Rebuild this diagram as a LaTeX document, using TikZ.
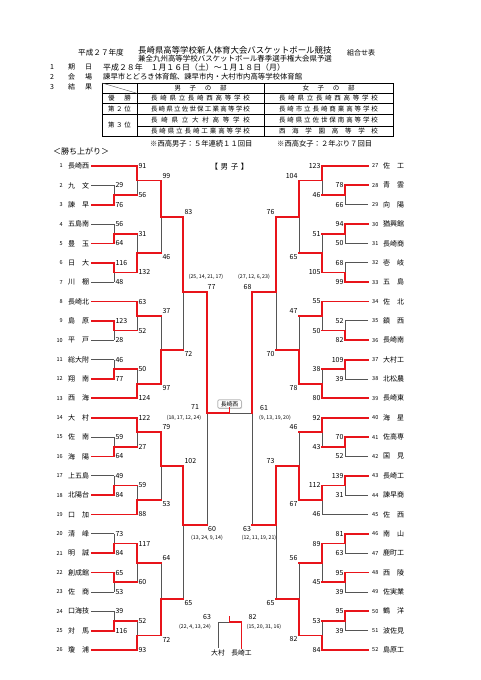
\documentclass[tikz,border=0pt]{standalone}
\usepackage{fontspec}
\setmainfont{Noto Sans CJK JP}
\usetikzlibrary{shadows}
\definecolor{bracketred}{RGB}{232,20,26}
\definecolor{bracketgray}{RGB}{85,85,85}
\pgfdeclarelayer{paper}
\pgfdeclarelayer{under}
\pgfsetlayers{paper,under,main}
\newcommand{\jfs}[1]{\fontsize{#1}{#1}\selectfont}
% spread the characters of a text over a given width
\def\spreadtext#1{\spreadfirst#1\relax}
\def\spreadfirst#1{\ifx\relax#1\else#1\expandafter\spreadrest\fi}
\def\spreadrest#1{\ifx\relax#1\else\hfil#1\expandafter\spreadrest\fi}
\newcommand{\spreadbox}[2]{\makebox[#1][s]{\spreadtext{#2}}}
% one game: x, next x, top y, bottom y, join y, winner (t/b), top score, bottom score, label side
\newcommand{\bout}[9]{%
  \if#6t
    \begin{pgfonlayer}{under}\draw[lose] (#1,#5) -- (#1,#4);\end{pgfonlayer}
    \draw[win] (#1,#3) -- (#1,#5);
  \else
    \begin{pgfonlayer}{under}\draw[lose] (#1,#3) -- (#1,#5);\end{pgfonlayer}
    \draw[win] (#1,#5) -- (#1,#4);
  \fi
  \draw[win] (#1,#5) -- (#2,#5);
  \node[#9 top] at (#1,#3) {#7};
  \node[#9 bot] at (#1,#4) {#8};}

\begin{document}
\begin{tikzpicture}[
  x=1pt,y=-1pt,
  win/.style={draw=bracketred,line width=1.8pt,line cap=rect},
  lose/.style={draw=bracketgray,line width=0.8pt},
  tbl/.style={draw=black,line width=0.7pt},
  head/.style={inner sep=0pt,anchor=west,font=\jfs{7}},
  cell/.style={inner sep=0pt,font=\jfs{6.5}},
  teamno/.style={inner sep=0pt,font=\jfs{5.5}},
  teamname/.style={inner sep=0pt,anchor=west,font=\jfs{7}},
  score/.style={inner sep=0pt,font=\jfs{7}},
  quarter/.style={inner sep=0pt,font=\jfs{5.2}},
  L top/.style={score,anchor=west,xshift=1.3pt},
  L bot/.style={score,anchor=west,xshift=1.3pt},
  LO top/.style={score,anchor=west,xshift=1.3pt,yshift=5pt},
  LO bot/.style={score,anchor=west,xshift=1.3pt,yshift=-4pt},
  R top/.style={score,anchor=east,xshift=-1.3pt},
  R bot/.style={score,anchor=east,xshift=-1.3pt},
  RO top/.style={score,anchor=east,xshift=-1.3pt,yshift=5pt},
  RO bot/.style={score,anchor=east,xshift=-1.3pt,yshift=-4pt},
  champ/.style={draw=bracketgray!80,fill=white,rounded corners=1pt,inner xsep=3pt,inner ysep=1.5pt,font=\jfs{5.8},
    drop shadow={shadow xshift=0.8pt,shadow yshift=-0.8pt,fill=black!30}},
  thirdname/.style={inner sep=2pt,font=\jfs{6.8}}
]
\begin{pgfonlayer}{paper}\fill[white] (0,0) rectangle (481,680);\end{pgfonlayer}
\useasboundingbox (0,0) rectangle (481,680);

% HEADER
\node[head,font=\jfs{7.6}] (nendo) at (78,53) {平成２７年度};
\node[head,font=\jfs{8.4}] (title) at (138,50.3) {長崎県高等学校新人体育大会バスケットボール競技};
\node[head,font=\jfs{7.45}] (subtitle) at (138,58.7) {兼全九州高等学校バスケットボール春季選手権大会県予選};
\node[head] (kumiawase) at (347,53) {組合せ表};

\node[head] (no1) at (50,67.3) {1};
\node[head] (lab1) at (68,67.3) {\spreadbox{24pt}{期日}};
\node[head,font=\jfs{7.9}] (date) at (103,67.3) {平成２８年　１月１６日（土）～１月１８日（月）};
\node[head] (no2) at (50,76.7) {2};
\node[head] (lab2) at (68,76.7) {\spreadbox{24pt}{会場}};
\node[head,font=\jfs{7.37}] (venue) at (103,76.7) {諫早市とどろき体育館、諫早市内・大村市内高等学校体育館};
\node[head] (no3) at (50,87.3) {3};
\node[head] (lab3) at (68,87.3) {\spreadbox{24pt}{結果}};

% RESULT TABLE
\draw[tbl,line width=0.9pt] (102,83) rectangle (393,136.8);
\draw[tbl] (102,93.3) -- (393,93.3);
\draw[tbl] (102,103.7) -- (393,103.7);
\draw[tbl] (102,114.7) -- (393,114.7);
\draw[tbl] (137,126) -- (393,126);
\draw[tbl] (137,83) -- (137,136.8);
\draw[tbl] (264,83) -- (264,136.8);
\draw[bracketgray,line width=0.4pt] (102,83) -- (137,93.3);
\node[cell] (boyshead) at (200.5,88.2) {\spreadbox{52pt}{男子の部}};
\node[cell] (girlshead) at (328.5,88.2) {\spreadbox{52pt}{女子の部}};
\node[cell] (first) at (119.5,98.5) {\spreadbox{23pt}{優勝}};
\node[cell] (second) at (119.5,109.2) {\spreadbox{23pt}{第２位}};
\node[cell] (third) at (119.5,125.4) {\spreadbox{23pt}{第３位}};
\node[cell] (b1) at (200.5,98.5) {\spreadbox{99pt}{長崎県立長崎西高等学校}};
\node[cell] (g1) at (328.5,98.5) {\spreadbox{99pt}{長崎県立長崎西高等学校}};
\node[cell] (b2) at (200.5,109.2) {\spreadbox{99pt}{長崎県立佐世保工業高等学校}};
\node[cell] (g2) at (328.5,109.2) {\spreadbox{99pt}{長崎市立長崎商業高等学校}};
\node[cell] (b3) at (200.5,120.4) {\spreadbox{99pt}{長崎県立大村高等学校}};
\node[cell] (g3) at (328.5,120.4) {\spreadbox{99pt}{長崎県立佐世保南高等学校}};
\node[cell] (b4) at (200.5,131.4) {\spreadbox{99pt}{長崎県立長崎工業高等学校}};
\node[cell] (g4) at (328.5,131.4) {\spreadbox{99pt}{西海学園高等学校}};
\node[head,font=\jfs{7.3}] (boysnote) at (150,143.3) {※西高男子：５年連続１１回目};
\node[head,font=\jfs{7.3}] (girlsnote) at (277,143.3) {※西高女子：２年ぶり７回目};

\node[head,font=\jfs{8}] (results) at (53,151.7) {＜勝ち上がり＞};
\node[inner sep=0pt,font=\jfs{7.5}] (boys) at (229.5,167) {\spreadbox{38pt}{【男子】}};

% LEFT TEAMS
\foreach \n/\name/\xe/\col in {1/長崎西/137/win,2/九　文/114/lose,3/諫　早/114/win,4/五島南/114/lose,
  5/豊　玉/114/win,6/日　大/114/win,7/川　棚/114/lose,8/長崎北/137/win,9/島　原/114/win,
  10/平　戸/114/lose,11/総大附/114/lose,12/翔　南/114/win,13/西　海/137/win,14/大　村/137/win,
  15/佐　南/114/lose,16/海　陽/114/win,17/上五島/114/lose,18/北陽台/114/win,19/口　加/137/win,
  20/清　峰/114/lose,21/明　誠/114/win,22/創成館/114/win,23/佐　商/114/lose,24/口海技/114/lose,
  25/対　馬/114/win,26/瓊　浦/137/win}{
  \pgfmathsetmacro{\y}{166+(\n-1)*19.36}
  \node[teamno,anchor=east] (n\n) at (63,\y) {\n};
  \node[teamname] (t\n) at (68,\y) {\name};
  \draw[\col] ([xshift=2pt]t\n.east) -- (\xe,\y);
}

% RIGHT TEAMS
\foreach \n/\name/\xe/\col in {27/佐　工/322/win,28/青　雲/345/win,29/向　陽/345/lose,30/猶興館/345/win,
  31/長崎商/345/lose,32/壱　岐/345/lose,33/五　島/345/win,34/佐　北/322/win,35/鎮　西/345/lose,
  36/長崎南/345/win,37/大村工/345/win,38/北松農/345/lose,39/長崎東/322/win,40/海　星/322/win,
  41/佐高専/345/win,42/国　見/345/lose,43/長崎工/345/win,44/諫早商/345/lose,45/佐　西/322/lose,
  46/南　山/345/win,47/鹿町工/345/lose,48/西　陵/345/win,49/佐実業/345/lose,50/鶴　洋/345/win,
  51/波佐見/345/lose,52/島原工/322/win}{
  \pgfmathsetmacro{\y}{166+(\n-27)*19.36}
  \node[teamno,anchor=west] (n\n) at (372,\y) {\n};
  \node[teamname] (t\n) at (383,\y) {\name};
  \draw[\col] ([xshift=-4pt]n\n.west) -- (\xe,\y);
}

% LEFT BRACKET
\foreach \ya/\yb/\yj/\sa/\sb/\w in {185.36/204.72/195.04/29/76/b,224.08/243.44/233.76/56/64/b,
  262.8/282.16/272.48/116/48/t,320.88/340.24/330.56/123/28/t,359.6/378.96/369.28/46/77/b,
  437.04/456.4/446.72/59/64/b,475.76/495.12/485.44/49/84/b,533.84/553.2/543.52/73/84/b,
  572.56/591.92/582.24/65/53/t,611.28/630.64/620.96/39/116/b}
  {\bout{114}{137}{\ya}{\yb}{\yj}{\w}{\sa}{\sb}{L}}
\foreach \ya/\yb/\yj/\sa/\sb/\w in {166/195.04/180.52/91/56/t,233.76/272.48/253.12/31/132/b,
  301.52/330.56/316.04/63/52/t,369.28/398.32/383.8/50/124/b,417.68/446.72/432.2/122/27/t,
  485.44/514.48/499.96/59/88/b,543.52/582.24/562.88/117/60/t,620.96/650/635.48/52/93/b}
  {\bout{137}{161}{\ya}{\yb}{\yj}{\w}{\sa}{\sb}{L}}
\foreach \ya/\yb/\yj/\sa/\sb/\w in {180.52/253.12/216.82/99/46/t,316.04/383.8/349.92/37/97/b,
  432.2/499.96/466.08/79/53/t,562.88/635.48/599.18/64/72/b}
  {\bout{161}{183}{\ya}{\yb}{\yj}{\w}{\sa}{\sb}{LO}}
\bout{183}{207}{216.82}{349.92}{292}{t}{83}{72}{LO}
\bout{183}{207}{466.08}{599.18}{525}{t}{102}{65}{LO}

% RIGHT BRACKET
\foreach \ya/\yb/\yj/\sa/\sb/\w in {185.36/204.72/195.04/78/66/t,224.08/243.44/233.76/94/50/t,
  262.8/282.16/272.48/68/99/b,320.88/340.24/330.56/52/82/b,359.6/378.96/369.28/109/39/t,
  437.04/456.4/446.72/70/52/t,475.76/495.12/485.44/139/31/t,533.84/553.2/543.52/81/63/t,
  572.56/591.92/582.24/95/39/t,611.28/630.64/620.96/95/39/t}
  {\bout{345}{322}{\ya}{\yb}{\yj}{\w}{\sa}{\sb}{R}}
\foreach \ya/\yb/\yj/\sa/\sb/\w in {166/195.04/180.52/123/46/t,233.76/272.48/253.12/51/105/b,
  301.52/330.56/316.04/55/50/t,369.28/398.32/383.8/38/80/b,417.68/446.72/432.2/92/43/t,
  485.44/514.48/499.96/112/46/t,543.52/582.24/562.88/89/45/t,620.96/650/635.48/53/84/b}
  {\bout{322}{299}{\ya}{\yb}{\yj}{\w}{\sa}{\sb}{R}}
\foreach \ya/\yb/\yj/\sa/\sb/\w in {180.52/253.12/216.82/104/65/t,316.04/383.8/349.92/47/78/b,
  432.2/499.96/466.08/46/67/b,562.88/635.48/599.18/56/82/b}
  {\bout{299}{276}{\ya}{\yb}{\yj}{\w}{\sa}{\sb}{RO}}
\bout{276}{252}{216.82}{349.92}{292}{t}{76}{70}{RO}
\bout{276}{252}{466.08}{599.18}{525}{t}{73}{65}{RO}

% SEMIFINALS AND FINAL
\node[champ] (champ) at (229.5,404) {長崎西};
\begin{pgfonlayer}{under}
\draw[lose] (207,413) -- (207,525);
\draw[lose] (252,413) -- (252,525);
\draw[lose] (229.5,413) -- (252,413);
\end{pgfonlayer}
\draw[win] (207,292) -- (207,413) -- (229.5,413) -- (champ.south);
\draw[win] (252,292) -- (252,413);
\node[score] (sfa) at (211.5,287) {77};
\node[quarter] (sfaq) at (206,277) {(25, 14, 21, 17)};
\node[score] (fa) at (195,407) {71};
\node[quarter] (faq) at (184,417.5) {(18, 17, 12, 24)};
\node[score] (sfb) at (212,528.5) {60};
\node[quarter] (sfbq) at (207,537.5) {(13, 24, 9, 14)};
\node[score] (sfc) at (247.5,287) {68};
\node[quarter] (sfcq) at (254,277) {(27, 12, 6, 23)};
\node[score] (fc) at (264,408) {61};
\node[quarter] (fcq) at (275,417.5) {(9, 13, 19, 20)};
\node[score] (sfd) at (247,528.5) {63};
\node[quarter] (sfdq) at (259,537.5) {(12, 11, 19, 21)};

% THIRD PLACE GAME
\node[thirdname] (omura) at (218,653) {大村};
\node[thirdname] (nkogyo) at (241.5,653) {長崎工};
\begin{pgfonlayer}{under}
\draw[lose] (omura.north) -- (218,622) -- (229.5,622);
\end{pgfonlayer}
\draw[win] (229.5,616.5) -- (229.5,622) -- (241.5,622) -- (nkogyo.north);
\node[score] (tpa) at (207,617) {63};
\node[quarter] (tpaq) at (195,626.5) {(22, 4, 13, 24)};
\node[score] (tpb) at (252.5,617) {82};
\node[quarter] (tpbq) at (264,626.5) {(15, 20, 31, 16)};
\end{tikzpicture}
\end{document}
